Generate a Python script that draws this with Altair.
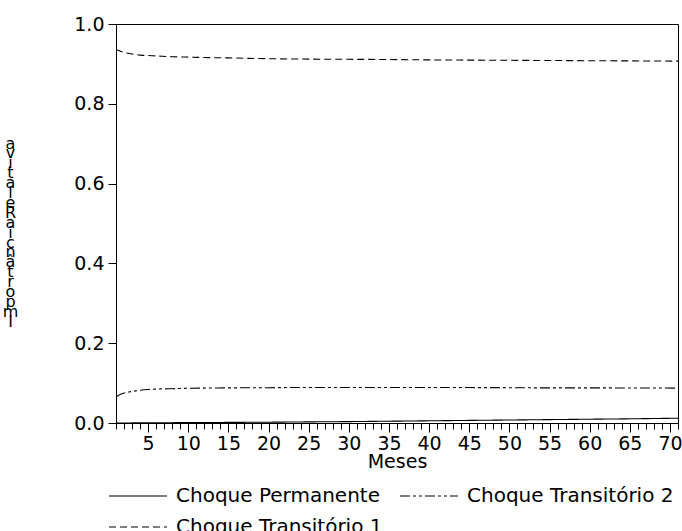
import altair as alt
import pandas as pd

# Horizon (months) at which each share is read
months = [1, 2, 3, 4, 5, 6, 8, 10, 12, 15, 20, 25, 30, 35, 40, 45, 50, 55, 60, 65, 71]

# Share of the forecast-error variance explained by each shock
permanente = [0.000, 0.0001, 0.0002, 0.0003, 0.0005, 0.0006, 0.0008, 0.001, 0.0012, 0.0015,
              0.002, 0.0028, 0.0035, 0.0045, 0.0055, 0.0065, 0.0075, 0.0085, 0.0095, 0.0105, 0.012]
transitorio1 = [0.936, 0.929, 0.925, 0.922, 0.921, 0.920, 0.918, 0.917, 0.916, 0.915,
                0.913, 0.912, 0.9115, 0.911, 0.910, 0.9095, 0.909, 0.9085, 0.908, 0.9075, 0.907]
transitorio2 = [0.066, 0.075, 0.079, 0.082, 0.084, 0.085, 0.086, 0.087, 0.0875, 0.088,
                0.0885, 0.089, 0.089, 0.089, 0.089, 0.0888, 0.0885, 0.088, 0.088, 0.0878, 0.0875]

series_names = ["Choque Permanente", "Choque Transitório 2", "Choque Transitório 1"]
series_dash = [[1, 0], [10, 3, 3, 3, 3, 3], [7, 4]]

x_major = [5, 10, 15, 20, 25, 30, 35, 40, 45, 50, 55, 60, 65, 70]
x_minor = list(range(1, 72))
y_ticks = [0.0, 0.2, 0.4, 0.6, 0.8, 1.0]

y_title = "Importância Relativa"

rows = []
for name, vals in zip(series_names, [permanente, transitorio2, transitorio1]):
    for m, v in zip(months, vals):
        rows.append({"Mes": m, "Serie": name, "Valor": v})
df = pd.DataFrame(rows)
ticks_df = pd.DataFrame({"Mes": x_minor})

FONT = "DejaVu Sans"

x_scale = alt.Scale(domain=[1, 71], nice=False, zero=False)
y_scale = alt.Scale(domain=[0, 1], nice=False)

lines = alt.Chart(df).mark_line(color="black", strokeWidth=1.1, interpolate="monotone").encode(
    x=alt.X("Mes:Q", scale=x_scale,
            axis=alt.Axis(values=x_major, tickSize=9, labelPadding=2, labelFontSize=19,
                          labelFont=FONT, labelColor="black", title="Meses",
                          titleFont=FONT, titleFontSize=19, titleFontWeight="normal",
                          titleColor="black", titlePadding=-1, grid=False,
                          domainColor="black", tickColor="black", orient="bottom",
                          labelFlush=False)),
    y=alt.Y("Valor:Q", scale=y_scale,
            axis=alt.Axis(values=y_ticks, format=".1f", tickSize=8, labelPadding=4,
                          labelFontSize=19, labelFont=FONT, labelColor="black",
                          labelBaseline="middle", grid=False, domainColor="black",
                          tickColor="black", labelFlush=False,
                          title=list(reversed(y_title)), titleAngle=0,
                          titleFont=FONT, titleFontSize=16, titleFontWeight="normal",
                          titleColor="black", titleLineHeight=9.9,
                          titleAlign="center", titleBaseline="top",
                          titleX=-106, titleY=111)),
    strokeDash=alt.StrokeDash("Serie:N",
                              scale=alt.Scale(domain=series_names, range=series_dash),
                              legend=alt.Legend(title=None, orient="none", legendX=-8,
                                                legendY=442, columns=2, gridAlign="none",
                                                direction="horizontal",
                                                symbolType="stroke", symbolSize=3364,
                                                symbolStrokeWidth=1.1,
                                                symbolStrokeColor="black",
                                                labelFont=FONT, labelFontSize=20,
                                                labelColor="black", labelOffset=8,
                                                columnPadding=14, rowPadding=-9,
                                                padding=0, labelLimit=400)),
)

minor = alt.Chart(ticks_df).mark_point(opacity=0).encode(
    x=alt.X("Mes:Q", scale=x_scale,
            axis=alt.Axis(values=x_minor, tickSize=6, labels=False, domain=False,
                          title=None, grid=False, tickColor="black", orient="bottom")),
    y=alt.value(0),
)

chart = alt.layer(lines, minor).resolve_axis(x="independent").properties(
    width=562,
    height=399,
    autosize=alt.AutoSizeParams(type="none"),
    padding={"left": 116, "top": 24, "right": 4, "bottom": 108},
    background="white",
).configure_view(stroke="black", strokeWidth=1)

chart.save("out.html", embed_options={"renderer": "svg", "actions": False})
